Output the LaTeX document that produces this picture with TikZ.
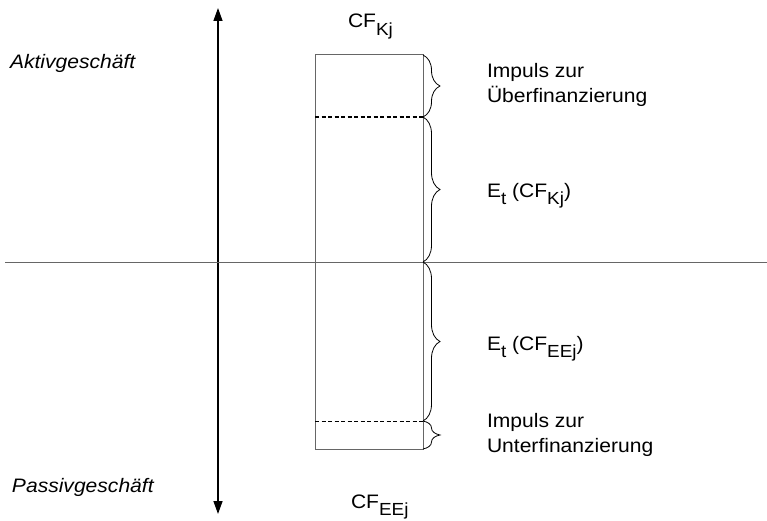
\documentclass[tikz,border=0pt]{standalone}
\usepackage{fontspec}
\setmainfont{Liberation Sans}[FakeStretch=1.08]
\usetikzlibrary{arrows.meta,decorations.pathreplacing,positioning}
\newcommand{\lowidx}[1]{\raisebox{-7.5pt}{\fontsize{17.5}{17.5}\selectfont #1}}

\begin{document}
\begin{tikzpicture}[x=1pt, y=-1pt, every node/.style={inner sep=0pt, outer sep=0pt, anchor=base west, align=left, font=\fontsize{19.5}{25}\selectfont},
  box/.style={draw=black!60, line width=1pt},
  split/.style={dashed, dash pattern=on 4pt off 2.5pt},
  brace/.style={decorate, decoration={brace, amplitude=17pt, aspect=0.5}, line width=0.8pt}]
\useasboundingbox (0,0) rectangle (767,521);
% axes
\coordinate (axtop) at (218,8);
\coordinate (axbot) at (218,514);
\coordinate (hl) at (5,262);
\coordinate (hr) at (767,262);
\draw[{Triangle[length=13pt,width=9pt]}-{Triangle[length=13pt,width=9pt]}, line width=1.4pt] (axbot) -- (axtop);
\draw[black!60, line width=1pt] (hl) -- (hr);
% box
\coordinate (tl) at (315,55);
\coordinate (br) at (423,449);
\coordinate (ul) at (315,117);
\coordinate (ur) at (423,117);
\coordinate (ll) at (315,421);
\coordinate (lr) at (423,421);
\coordinate (mr) at (423,262);
\draw[box] (tl) rectangle (br);
\draw[split, line width=1.6pt] (ul) -- (ur);
\draw[split, line width=1pt] (ll) -- (lr);
% braces
\draw[brace] (tl -| br) -- (ur);
\draw[brace] (ur) -- (mr);
\draw[brace] (mr) -- (lr);
\draw[brace] (lr) -- (br);
% labels
\node (aktiv) at (10,69) {\itshape Aktivgeschäft};
\node (passiv) at (12,492) {\itshape Passivgeschäft};
\node (cfk) at (348,28) {CF\lowidx{Kj}};
\node (cfee) at (351,508) {CF\lowidx{EEj}};
\node (ueber) at (487,103) {Impuls zur\\Überfinanzierung};
\node (etk) at (487,197) {E\lowidx{t} (CF\lowidx{Kj})};
\node (etee) at (487,350) {E\lowidx{t} (CF\lowidx{EEj})};
\node (unter) at (487,452) {Impuls zur\\Unterfinanzierung};
\end{tikzpicture}
\end{document}
